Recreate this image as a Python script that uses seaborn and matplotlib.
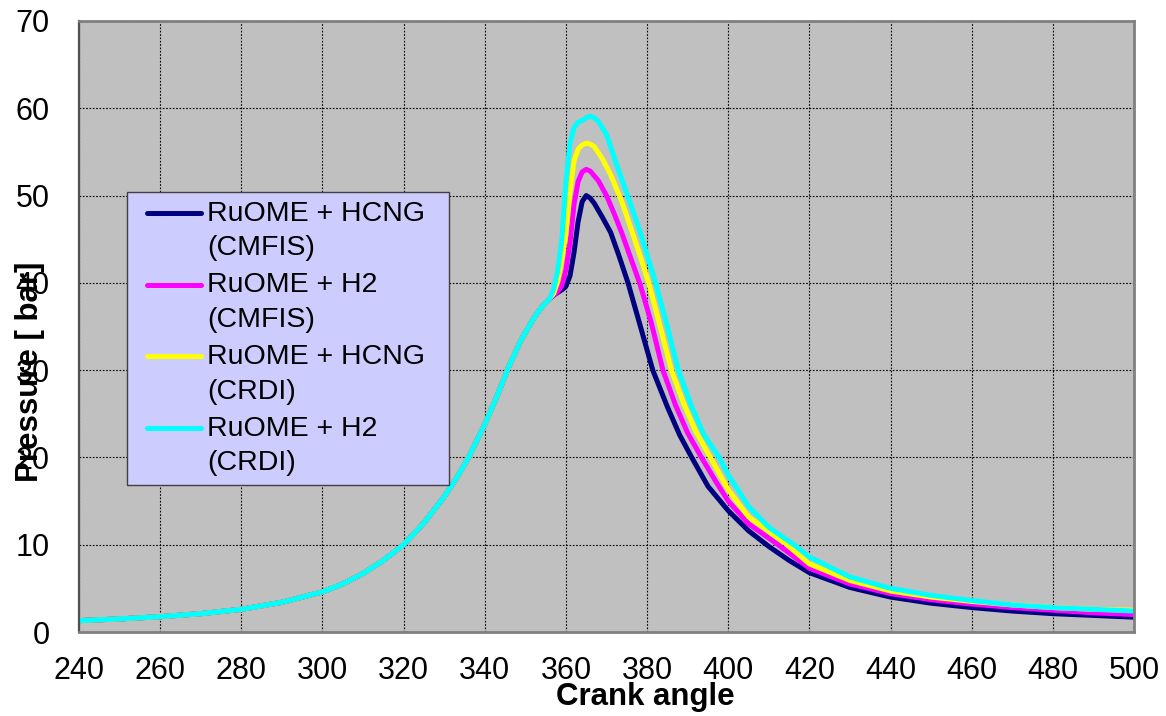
import matplotlib
matplotlib.use("Agg")
import matplotlib.pyplot as plt
from matplotlib.legend_handler import HandlerLine2D
import numpy as np
import seaborn as sns
import pandas as pd

# ---------------- data ----------------
ca_common = [240, 250, 260, 270, 280, 290, 300, 305, 310, 315, 320, 325, 330, 333, 336,
             340, 343, 346, 349, 352, 354, 356]
p_common = [1.3, 1.5, 1.75, 2.1, 2.6, 3.4, 4.6, 5.5, 6.7, 8.2, 10.0, 12.5, 15.5, 17.6, 20.0,
            23.8, 27.0, 30.5, 33.5, 35.9, 37.2, 38.2]

ca_hcng_cmfis = [357, 358, 359, 360, 361, 362, 363, 364, 365, 366, 367, 369, 371, 373, 375.3,
                 378, 381.4, 385, 388, 391, 395, 400, 405, 410, 415, 420, 430, 440, 450, 460,
                 470, 480, 490, 500]
p_hcng_cmfis = [38.6, 38.9, 39.2, 39.6, 40.8, 43.5, 47.0, 49.3, 50.0, 49.7, 49.1, 47.5, 45.8,
                43.2, 40.0, 35.6, 30.0, 25.8, 22.6, 20.0, 16.7, 13.9, 11.6, 9.8, 8.2, 6.8, 5.1,
                4.0, 3.3, 2.8, 2.4, 2.1, 1.9, 1.7]

ca_h2_cmfis = [357, 358, 359, 360, 361, 362, 363, 364, 365, 366, 368, 370, 372, 373.7, 376,
               378.3, 381, 383.9, 387, 390, 393.4, 397, 400, 405, 412.3, 420, 430, 440, 450,
               460, 470, 480, 490, 500]
p_h2_cmfis = [38.6, 39.0, 39.7, 41.5, 44.6, 49.0, 51.6, 52.7, 53.0, 52.8, 51.7, 50.0, 47.8,
              45.8, 42.8, 39.8, 35.5, 30.0, 26.0, 22.8, 20.0, 17.2, 15.0, 12.4, 10.0, 7.3, 5.5,
              4.4, 3.7, 3.2, 2.8, 2.5, 2.2, 2.0]

ca_hcng_crdi = [357, 358, 359, 360, 361, 362, 363, 364, 365, 366, 367, 369, 371, 373.7,
                376.2, 378, 380.4, 383, 386, 389, 392, 395.6, 400, 405, 414.5, 420, 430, 440,
                450, 460, 470, 480, 490, 500]
p_hcng_crdi = [38.8, 40.2, 42.8, 45.5, 50.5, 54.0, 55.3, 55.8, 56.0, 55.9, 55.6, 54.2, 52.4,
               49.4, 46.0, 43.5, 40.0, 35.4, 30.0, 26.2, 23.0, 20.0, 16.3, 13.2, 10.0, 7.8, 5.9,
               4.7, 4.0, 3.5, 3.1, 2.8, 2.6, 2.5]

ca_h2_crdi = [357, 358, 359, 360, 361, 362, 363, 364, 365, 366, 367, 368, 370, 372.6, 375.5,
              378.3, 382.1, 385, 387.7, 391, 394, 397.8, 400, 405, 410, 416.2, 420, 430, 440,
              450, 460, 470, 480, 490, 500]
p_h2_crdi = [39.3, 41.5, 45.0, 51.5, 56.0, 57.8, 58.4, 58.6, 58.9, 59.1, 58.9, 58.5, 57.0,
             53.4, 49.6, 45.8, 40.0, 35.0, 30.0, 25.8, 22.6, 20.0, 18.0, 14.4, 12.0, 10.0, 8.6,
             6.3, 5.0, 4.2, 3.6, 3.1, 2.8, 2.6, 2.4]

series_names = ["RuOME + HCNG\n(CMFIS)", "RuOME + H2\n(CMFIS)",
                "RuOME + HCNG\n(CRDI)", "RuOME + H2\n(CRDI)"]
series_colors = ["#000080", "#FF00FF", "#FFFF00", "#00FFFF"]
series_ca = [ca_hcng_cmfis, ca_h2_cmfis, ca_hcng_crdi, ca_h2_crdi]
series_p = [p_hcng_cmfis, p_h2_cmfis, p_hcng_crdi, p_h2_crdi]

x_ticks = list(range(240, 501, 20))
y_ticks = list(range(0, 71, 10))

# ---------------- build long table ----------------
rows = []
for name, cas, ps in zip(series_names, series_ca, series_p):
    for a, p in zip(ca_common + cas, p_common + ps):
        rows.append({"angle": a, "pressure": p, "series": name})
df = pd.DataFrame(rows)

sns.set_style("white")
plt.rcParams["font.family"] = ["Liberation Sans", "DejaVu Sans"]
plt.rcParams["text.color"] = "black"
plt.rcParams["axes.labelcolor"] = "black"
plt.rcParams["xtick.color"] = "black"
plt.rcParams["ytick.color"] = "black"


class FirstLineHandler(HandlerLine2D):
    """Legend line aligned with the first text line, inset from the left."""
    def create_artists(self, legend, orig_handle, xdescent, ydescent, width, height,
                       fontsize, trans):
        artists = super().create_artists(legend, orig_handle, xdescent, ydescent,
                                         width, height, fontsize, trans)
        for a in artists:
            xd = np.asarray(a.get_xdata(), dtype=float)
            yd = np.asarray(a.get_ydata(), dtype=float)
            if len(xd) >= 2:
                a.set_xdata(np.linspace(xd[0] + 8.3, xd[-1], len(xd)))
            a.set_ydata(yd + 13.0)
        return artists


fig = plt.figure(figsize=(11.66, 7.16), dpi=100)
fig.patch.set_facecolor("white")
ax = fig.add_axes([79 / 1166, 1 - 632 / 716, (1134 - 79) / 1166, (632 - 21) / 716])
ax.set_facecolor("#C0C0C0")

sns.lineplot(data=df, x="angle", y="pressure", hue="series", hue_order=series_names,
             palette=dict(zip(series_names, series_colors)), estimator=None, sort=False,
             linewidth=3.6, ax=ax)

ax.set_xlim(240, 500)
ax.set_ylim(0, 70)
ax.set_xticks(x_ticks)
ax.set_yticks(y_ticks)
ax.set_axisbelow(True)
ax.grid(True, color="black", linestyle=(0, (1.5, 1.5)), linewidth=0.8)

for side in ["top", "right", "bottom"]:
    ax.spines[side].set_visible(True)
    ax.spines[side].set_color("#808080")
    ax.spines[side].set_linewidth(2)
ax.spines["left"].set_color("#505050")
ax.spines["left"].set_linewidth(1.6)

ax.tick_params(axis="x", direction="out", length=9, width=1, pad=8,
               labelsize=22, color="#404040", labelcolor="black")
ax.tick_params(axis="y", direction="out", length=10, width=1, pad=11,
               labelsize=22, color="#404040", labelcolor="black")

ax.set_xlabel("Crank angle", fontsize=22.5, fontweight="bold", color="black")
ax.set_ylabel("Pressure [ bar]", fontsize=22.5, fontweight="bold", color="black")
ax.xaxis.set_label_coords((645 - 79) / 1055, (632 - 697) / 611)
ax.xaxis.label.set_verticalalignment("center")
ax.yaxis.set_label_coords((30 - 79) / 1055, (632 - 372) / 611)
ax.yaxis.label.set_verticalalignment("center")

handles, labels = ax.get_legend_handles_labels()
leg = ax.legend(handles, labels, loc="upper left",
                bbox_to_anchor=((127 - 79) / 1055, (632 - 486) / 611,
                                (449 - 127) / 1055, (486 - 192) / 611),
                mode="expand", fontsize=20.5, frameon=True, fancybox=False,
                facecolor="#CCCCFF", edgecolor="#404040", framealpha=1,
                borderpad=0.3, handlelength=2.3, handletextpad=0.21,
                labelspacing=0.39, borderaxespad=0,
                handler_map={h: FirstLineHandler() for h in handles})
leg.get_frame().set_linewidth(1.0)
for line in leg.get_lines():
    line.set_linewidth(3.6)
for t in leg.get_texts():
    t.set_linespacing(1.43)
    t.set_color("black")

fig.savefig("out.png", dpi=100)
